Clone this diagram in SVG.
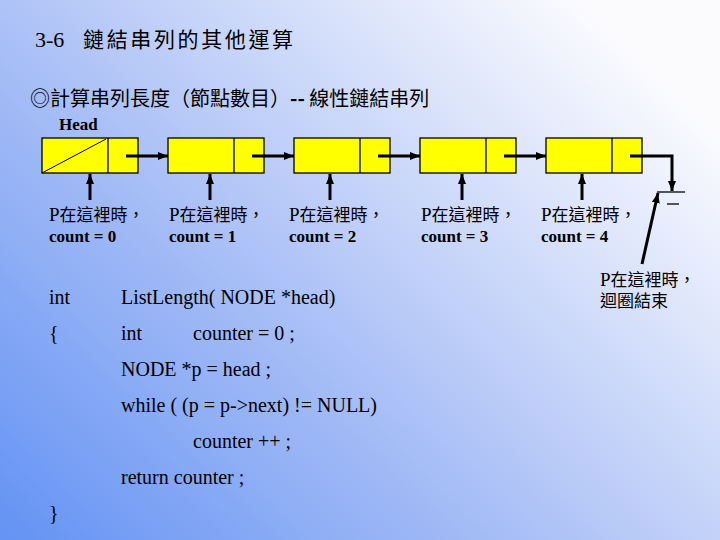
<svg xmlns="http://www.w3.org/2000/svg" width="720" height="540" viewBox="0 0 720 540">
<style>
.t{font-family:"Liberation Serif","Noto Sans CJK TC",serif;fill:#000}
.cjk{font-family:"Noto Sans CJK TC",sans-serif}
.p{font-family:"Liberation Serif",serif;font-size:19px}
.lbl{font-size:17px}
.b{font-weight:bold}
.code{font-size:20px}
.box{fill:#ffff00;stroke:#000;stroke-width:1.3}
.ln{stroke:#000;fill:none}
.link{stroke-width:3;marker-end:url(#ah)}
</style>
<defs>
<linearGradient id="bg" gradientUnits="userSpaceOnUse" x1="40" y1="560" x2="580" y2="0">
<stop offset="0" stop-color="#6694f4"/>
<stop offset="0.45" stop-color="#a9bff6"/>
<stop offset="1" stop-color="#fbfbfe"/>
</linearGradient>
<marker id="ah" markerUnits="userSpaceOnUse" markerWidth="10" markerHeight="8" refX="10" refY="4" orient="auto">
<path d="M0,0 L10,4 L0,8 Z" fill="#000"/>
</marker>
</defs>
<rect width="720" height="540" fill="url(#bg)"/>

<text class="t" x="35" y="47" font-size="22">3-6</text>
<text class="t cjk" x="83" y="47" font-size="21" textLength="210" lengthAdjust="spacing">鏈結串列的其他運算</text>
<text class="t cjk" x="30" y="106" font-size="20">◎計算串列長度（節點數目）<tspan class="b">--</tspan> 線性鏈結串列</text>
<text class="t b" x="59" y="130" font-size="17">Head</text>

<g id="node1"><rect class="box" x="42" y="138" width="96" height="35"/><line class="ln" x1="108" y1="138" x2="108" y2="173" stroke-width="1.3"/><line class="ln" x1="42" y1="173" x2="106" y2="139" stroke-width="1"/></g>
<g id="node2"><rect class="box" x="168" y="138" width="96" height="35"/><line class="ln" x1="234" y1="138" x2="234" y2="173" stroke-width="1.3"/></g>
<g id="node3"><rect class="box" x="294" y="138" width="96" height="35"/><line class="ln" x1="360" y1="138" x2="360" y2="173" stroke-width="1.3"/></g>
<g id="node4"><rect class="box" x="420" y="138" width="96" height="35"/><line class="ln" x1="486" y1="138" x2="486" y2="173" stroke-width="1.3"/></g>
<g id="node5"><rect class="box" x="546" y="138" width="96" height="35"/><line class="ln" x1="612" y1="138" x2="612" y2="173" stroke-width="1.3"/></g>
<g id="null"><line class="ln" x1="657" y1="192" x2="685" y2="192" stroke-width="1.3"/><line class="ln" x1="667" y1="204" x2="679" y2="204" stroke-width="1.3"/></g>

<g id="connectors">
<line class="ln link" x1="126" y1="156" x2="168" y2="156"/>
<line class="ln link" x1="252" y1="156" x2="294" y2="156"/>
<line class="ln link" x1="378" y1="156" x2="420" y2="156"/>
<line class="ln link" x1="504" y1="156" x2="546" y2="156"/>
<path class="ln link" d="M630,156 H672 V191" stroke-width="3.5"/>
<line class="ln link" x1="90" y1="200" x2="90" y2="174"/>
<line class="ln link" x1="210" y1="200" x2="210" y2="174"/>
<line class="ln link" x1="330" y1="200" x2="330" y2="174"/>
<line class="ln link" x1="462" y1="200" x2="462" y2="174"/>
<line class="ln link" x1="582" y1="200" x2="582" y2="174"/>
<line class="ln link" x1="642" y1="264" x2="658" y2="193"/>
</g>

<g id="labels">
<text class="t lbl" x="49" y="221"><tspan class="p">P</tspan>在這裡時，</text><text class="t lbl b" x="49" y="242">count = 0</text>
<text class="t lbl" x="169" y="221"><tspan class="p">P</tspan>在這裡時，</text><text class="t lbl b" x="169" y="242">count = 1</text>
<text class="t lbl" x="289" y="221"><tspan class="p">P</tspan>在這裡時，</text><text class="t lbl b" x="289" y="242">count = 2</text>
<text class="t lbl" x="421" y="221"><tspan class="p">P</tspan>在這裡時，</text><text class="t lbl b" x="421" y="242">count = 3</text>
<text class="t lbl" x="541" y="221"><tspan class="p">P</tspan>在這裡時，</text><text class="t lbl b" x="541" y="242">count = 4</text>
<text class="t lbl" x="600" y="286"><tspan class="p">P</tspan>在這裡時，</text><text class="t lbl" x="600" y="307">迴圈結束</text>
</g>

<g id="code">
<text class="t code" x="49" y="304">int</text><text class="t code" x="121" y="304">ListLength( NODE *head)</text>
<text class="t code" x="49" y="340">{</text><text class="t code" x="121" y="340">int</text><text class="t code" x="193" y="340">counter = 0 ;</text>
<text class="t code" x="121" y="376">NODE *p = head ;</text>
<text class="t code" x="121" y="412">while ( (p = p-&gt;next) != NULL)</text>
<text class="t code" x="193" y="448">counter ++ ;</text>
<text class="t code" x="121" y="484">return counter ;</text>
<text class="t code" x="49" y="520">}</text>
</g>
</svg>
